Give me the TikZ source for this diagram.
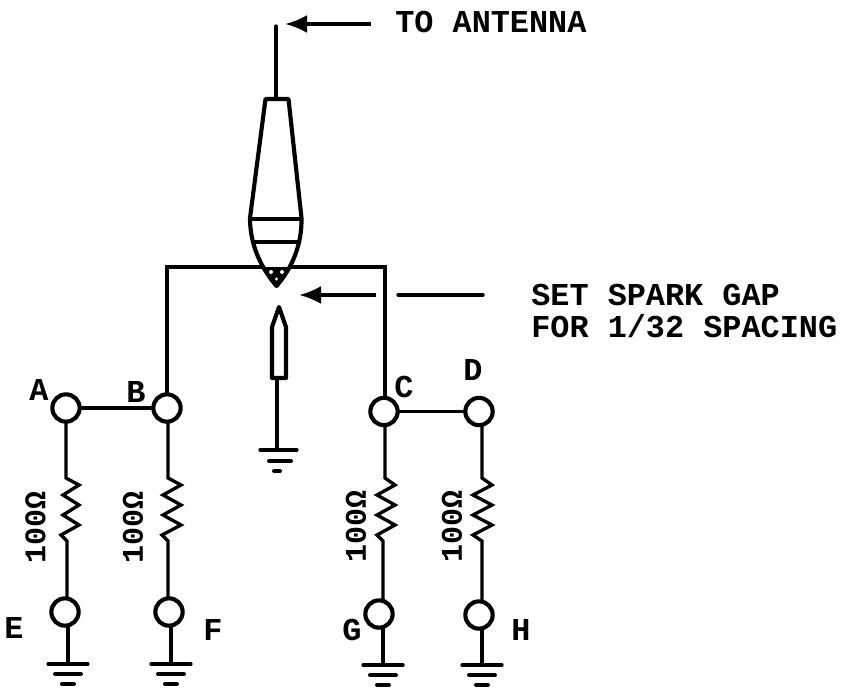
\documentclass[tikz,border=0pt]{standalone}
\usepackage{fontspec}
\setmainfont{Liberation Mono}[BoldFont={Liberation Mono Bold}]
\usetikzlibrary{arrows.meta}
\tikzset{
  wire/.style={line width=2.5pt,line cap=round},
  term/.style={circle,draw,line width=3.1pt,minimum size=20.5pt,inner sep=0pt,fill=white},
  plug/.style={line width=3.1pt,line join=round},
  lab/.style={font=\fontsize{23.9pt}{24.7pt}\selectfont\bfseries,inner sep=0pt},
  tlab/.style={lab,anchor=west,align=left},
  rlab/.style={font=\fontsize{22.5pt}{24pt}\selectfont\bfseries,inner sep=0pt,rotate=90},
  arr/.style={line width=2.5pt,-{Latex[length=16.5pt,width=13.5pt]}}
}
\newcommand{\gnd}[1]{%
  \draw[wire] ([shift={(-20,0)}]#1) -- ([shift={(20,0)}]#1);
  \draw[line width=3pt,line cap=round] ([shift={(-13,10)}]#1) -- ([shift={(13,10)}]#1);
  \draw[line width=3pt,line cap=round] ([shift={(-6,20)}]#1) -- ([shift={(6,20)}]#1);
}
\begin{document}
\begin{tikzpicture}[x=0.75pt,y=-0.75pt]
\useasboundingbox (0,0) rectangle (849,689);
% named points
\coordinate (gE) at (68,664);
\coordinate (gF) at (171,664);
\coordinate (gG) at (383,665);
\coordinate (gH) at (482,665);
\coordinate (bus1) at (167,267);
\coordinate (bus2) at (385,267);
\coordinate (top) at (276,26);
\coordinate (capTop) at (276,98);
\coordinate (eleBot) at (277,378);
% wires below terminals are drawn first, terminals sit on top
\foreach \x/\tx/\ty/\bx/\by/\r/\l/\lx in {
  66/66/408/67/612/79/63/61,
  168/167/408/168/612/181/163/162,
  385/384/411/383/614/395/377/377,
  482/479/412/482/615/492/473/473}{
  \draw[wire,line join=miter] (\x,\ty) -- (\x,478) -- (\r,485) -- (\l,495) -- (\r,505) -- (\l,515) -- (\r,525) -- (\lx,535) -- (\bx,541) -- (\bx,\by);
}
\draw[wire] (gE) -- (68,612);
\draw[wire] (gF) -- (171,612);
\draw[wire] (gG) -- (383,614);
\draw[wire] (gH) -- (482,615);
\draw[wire,line join=miter] (167,408) -- (bus1) -- (bus2) -- (385,411);
% terminals
\node[term] (A) at (66,408) {};
\node[term] (B) at (167,408) {};
\node[term] (C) at (384,411.5) {};
\node[term] (D) at (479,411.5) {};
\node[term] (E) at (65,612) {};
\node[term] (F) at (169,612) {};
\node[term] (G) at (379,614) {};
\node[term] (H) at (479,615) {};
% ladder links
\draw[wire] (A) -- (B);
\draw[wire] (C) -- (D);
\gnd{gE}\gnd{gF}\gnd{gG}\gnd{gH}
% spark plug body
\draw[plug,fill=white]
  (265.5,99) -- (288.5,99) -- (301.5,218)
  .. controls (302,245) and (292,268) .. (276.5,286)
  .. controls (261,268) and (250,245) .. (250,218) -- cycle;
\draw[plug] (250,219) -- (301,219);
\draw[plug] (254,242) -- (298,242);
\fill (263,267) -- (290,267) -- (276.5,287) -- cycle;
\fill[white] (271,272) circle (2);
\fill[white] (282,272) circle (2);
\fill[white] (276.5,279) circle (1.7);
\draw[wire] (top) -- (capTop);
% lower electrode
\draw[plug,fill=white] (272,378) -- (272,327) -- (279,307) -- (286,327) -- (286,378) -- cycle;
\draw[wire] (eleBot) -- (277,450);
\draw[wire] (260,450) -- (297,450);
\draw[line width=3pt,line cap=round] (269,461) -- (291,461);
\draw[line width=3pt,line cap=round] (274,471) -- (280,471);
% arrows
\coordinate (a1s) at (371,24);
\coordinate (a1e) at (285,24);
\draw[arr] (a1s) -- (a1e);
\coordinate (a2s) at (376,295);
\coordinate (a2e) at (299,295);
\draw[arr] (a2s) -- (a2e);
\coordinate (a3s) at (398,295);
\coordinate (a3e) at (483,295);
\draw[wire] (a3s) -- (a3e);
% labels
\node[tlab] (t1) at (395,22) {TO ANTENNA};
\node[tlab] (t2) at (531,311) {SET SPARK GAP\\FOR 1/32 SPACING};
\node[lab] (la) at (39,390) {A};
\node[lab] (lb) at (136,392) {B};
\node[lab] (lc) at (404,387) {C};
\node[lab] (ld) at (473,370) {D};
\node[lab] (le) at (14,628) {E};
\node[lab] (lf) at (213,630) {F};
\node[lab] (lg) at (352,630) {G};
\node[lab] (lh) at (521,630) {H};
\node[rlab] (r1) at (35.5,527) {100Ω};
\node[rlab] (r2) at (133,527) {100Ω};
\node[rlab] (r3) at (356,526) {100Ω};
\node[rlab] (r4) at (452,526) {100Ω};
\end{tikzpicture}
\end{document}
